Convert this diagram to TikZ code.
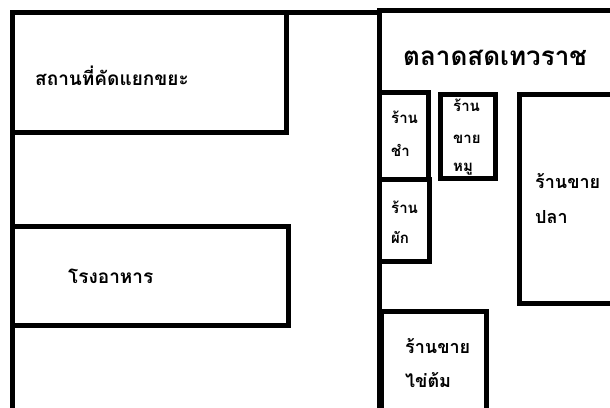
\documentclass[tikz,border=0pt]{standalone}
\usepackage{fontspec}
\newfontfamily\thaifont[Script=Thai]{Loma}
\begin{document}
\begin{tikzpicture}[x=1pt,y=-1pt,
  wall/.style={line width=5pt,line join=miter},
  lbl/.style={anchor=base west,inner sep=0pt,font=\thaifont\bfseries},
  big/.style={lbl,font=\thaifont\bfseries\fontsize{26}{28}\selectfont},
  mid/.style={lbl,font=\thaifont\bfseries\fontsize{19}{21}\selectfont},
  shop/.style={lbl,font=\thaifont\bfseries\fontsize{18}{20}\selectfont},
  sml/.style={lbl,font=\thaifont\bfseries\fontsize{15}{17}\selectfont}]
\useasboundingbox (0,0) rectangle (610,407);
\fill[white] (0,0) rectangle (610,407);
\begin{scope}
\clip (0,0) rectangle (610,407);
% outer wall of the site
\draw[wall] (12,415) -- (12,12) -- (379,12);
% left buildings
\draw[wall] (12,12) rectangle (286.5,132);
\draw[wall] (12,226) rectangle (288,325.5);
% market building
\draw[wall] (379,415) -- (379,10) -- (615,10);
\draw[wall] (379,92) rectangle (428,179);
\draw[wall] (379,179) rectangle (429,261);
\draw[wall] (440.5,94) rectangle (495.5,178);
\draw[wall] (519,94) rectangle (615,303);
\draw[wall] (381.5,311) rectangle (486.5,415);
\end{scope}
% labels
\node[mid] (waste) at (35,85) {สถานที่คัดแยกขยะ};
\node[mid] (canteen) at (68,283) {โรงอาหาร};
\node[big] (market) at (403,65) {ตลาดสดเทวราช};
\node[sml] (grocA) at (391,123) {ร้าน};
\node[sml] (grocB) at (391,156) {ชำ};
\node[sml] (porkA) at (453,111) {ร้าน};
\node[sml] (porkB) at (453,143) {ขาย};
\node[sml] (porkC) at (453,171) {หมู};
\node[sml] (vegA) at (391,213) {ร้าน};
\node[sml] (vegB) at (391,243) {ผัก};
\node[shop] (fishA) at (535,188) {ร้านขาย};
\node[shop] (fishB) at (535,223) {ปลา};
\node[shop] (eggA) at (405,353) {ร้านขาย};
\node[shop] (eggB) at (405,387) {ไข่ต้ม};
\end{tikzpicture}
\end{document}
